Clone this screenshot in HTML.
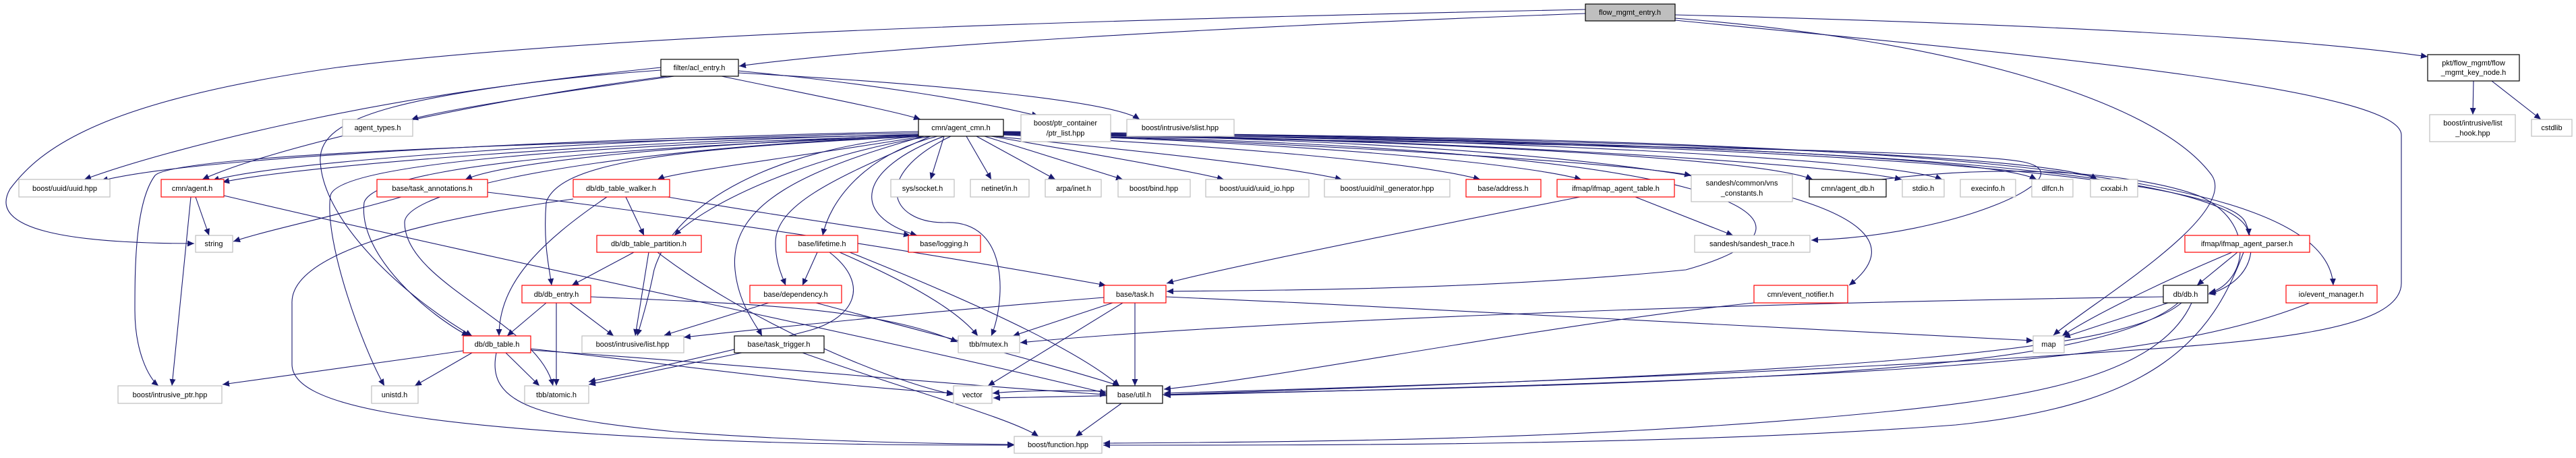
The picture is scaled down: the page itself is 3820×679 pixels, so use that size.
<!DOCTYPE html>
<html><head><meta charset="utf-8"><style>
html,body{margin:0;padding:0;background:#fff;}
svg{display:block;}
text{font-family:"Liberation Sans",Arial,sans-serif;font-size:11px;fill:#000;}
.e{fill:none;stroke:#191970;stroke-width:1.1;marker-end:url(#a);}
.g{fill:#fff;stroke:#bfbfbf;stroke-width:1.2;}
.r{fill:#fff;stroke:#ff0000;stroke-width:1.2;}
.k{fill:#fff;stroke:#000;stroke-width:1.2;}
.root{fill:#bfbfbf;stroke:#000;stroke-width:1.2;}
</style></head><body>
<svg width="3820" height="679" viewBox="0 0 3820 679" xmlns="http://www.w3.org/2000/svg">
<defs><marker id="a" markerWidth="11" markerHeight="9" refX="10" refY="4.5" orient="auto" markerUnits="userSpaceOnUse"><path d="M0,0 L10,4.5 L0,9z" fill="#191970"/></marker></defs>
<g>
<path class="e" d="M2351,20 C1800,40 1300,70 1096,98"/>
<path class="e" d="M2484,22 C3000,35 3400,55 3600,84"/>
<path class="e" d="M2351,14 C1600,30 900,50 500,100 C150,150 60,220 15,280 C-20,340 100,361 288,361"/>
<path class="e" d="M2484,27 C2900,60 3200,150 3280,260 C3320,320 3100,450 3045,497"/>
<path class="e" d="M2484,30 C3000,80 3560,130 3561,200 L3561,420 C3560,500 3300,510 3000,530 C2500,560 2000,575 1726,583"/>
<path class="e" d="M1070,113 C1200,140 1330,165 1365,177"/>
<path class="e" d="M1095,105 C1300,125 1450,150 1540,172"/>
<path class="e" d="M1095,108 C1400,125 1650,150 1690,177"/>
<path class="e" d="M980,104 C600,130 250,220 125,266"/>
<path class="e" d="M990,113 C700,150 400,220 300,266"/>
<path class="e" d="M1000,113 C800,140 650,165 610,177"/>
<path class="e" d="M980,100 C600,140 470,170 475,240 C480,330 600,440 700,498"/>
<path class="e" d="M1362,195 C900,205 300,230 150,268"/>
<path class="e" d="M1362,197 C900,205 400,240 315,268"/>
<path class="e" d="M1362,199 C900,210 450,245 330,270"/>
<path class="e" d="M1362,200 C800,210 260,230 230,260 C200,300 200,400 200,460 C200,520 220,560 235,572"/>
<path class="e" d="M1362,200 C1000,215 750,240 690,266"/>
<path class="e" d="M1362,201 C900,215 500,240 490,290 C480,360 540,520 570,572"/>
<path class="e" d="M1362,202 C1000,215 560,240 540,300 C530,380 640,470 695,498"/>
<path class="e" d="M1370,202 C1200,230 1000,255 975,266"/>
<path class="e" d="M1380,202 C1200,230 1050,300 1000,349"/>
<path class="e" d="M1365,202 C1000,220 830,240 810,300 C805,360 815,400 818,423"/>
<path class="e" d="M1362,202 C900,220 600,280 600,330 C600,420 800,480 820,572"/>
<path class="e" d="M1362,202 C1150,220 1000,300 970,400 C960,450 950,480 945,498"/>
<path class="e" d="M1370,202 C1200,250 1080,300 1090,400 C1095,450 1120,480 1130,498"/>
<path class="e" d="M1380,202 C1250,260 1150,300 1150,360 C1150,390 1160,410 1165,423"/>
<path class="e" d="M1390,202 C1280,230 1230,300 1220,349"/>
<path class="e" d="M1400,202 C1270,250 1260,320 1360,349"/>
<path class="e" d="M1410,202 C1290,260 1320,330 1400,330 C1500,325 1490,450 1470,498"/>
<path class="e" d="M1400,202 L1380,266"/>
<path class="e" d="M1433,202 L1470,266"/>
<path class="e" d="M1448,202 L1565,266"/>
<path class="e" d="M1460,202 L1665,266"/>
<path class="e" d="M1470,202 C1600,225 1750,250 1815,266"/>
<path class="e" d="M1475,202 C1650,220 1900,245 1990,266"/>
<path class="e" d="M1488,200 C1800,215 2100,240 2195,266"/>
<path class="e" d="M1488,199 C1900,210 2250,240 2345,266"/>
<path class="e" d="M1488,198 C1900,210 2400,240 2508,260"/>
<path class="e" d="M1488,197 C2000,205 2600,230 2688,266"/>
<path class="e" d="M1488,196 C2100,205 2700,240 2820,266"/>
<path class="e" d="M1488,196 C2200,205 2800,235 2880,266"/>
<path class="e" d="M1488,195 C2300,205 2950,230 3020,266"/>
<path class="e" d="M1488,195 C2400,205 3050,230 3110,266"/>
<path class="e" d="M1488,198 C2200,215 2900,220 3000,240 C3100,260 2900,350 2686,356"/>
<path class="e" d="M1488,200 C2600,215 2750,330 2500,400 C2200,430 1900,430 1730,432"/>
<path class="e" d="M1488,198 C2500,210 2900,300 2742,423"/>
<path class="e" d="M1488,197 C2600,210 3330,240 3335,349"/>
<path class="e" d="M1488,197 C2700,210 3300,260 3330,330 C3360,400 3300,430 3275,436"/>
<path class="e" d="M1488,196 C2800,205 3450,240 3460,423"/>
<path class="e" d="M290,292 L310,349"/>
<path class="e" d="M283,292 L255,572"/>
<path class="e" d="M332,290 C800,400 1300,500 1641,583"/>
<path class="e" d="M595,292 C500,320 400,340 346,358"/>
<path class="e" d="M723,285 C1100,330 1400,380 1640,423"/>
<path class="e" d="M928,292 L955,349"/>
<path class="e" d="M990,292 C1150,320 1300,340 1350,349"/>
<path class="e" d="M900,292 C800,360 740,420 740,498"/>
<path class="e" d="M850,295 C600,330 430,380 433,450 L433,540 C433,600 600,630 1000,650 C1200,660 1400,660 1504,660"/>
<path class="e" d="M940,374 L848,423"/>
<path class="e" d="M962,374 L942,498"/>
<path class="e" d="M975,374 C1100,470 1300,560 1414,585"/>
<path class="e" d="M810,449 L752,498"/>
<path class="e" d="M825,449 L825,572"/>
<path class="e" d="M845,449 L910,498"/>
<path class="e" d="M876,440 C1100,450 1300,455 1420,507"/>
<path class="e" d="M687,520 C550,540 400,560 330,570"/>
<path class="e" d="M700,523 L615,572"/>
<path class="e" d="M750,523 L800,572"/>
<path class="e" d="M787,517 C1000,540 1200,570 1414,583"/>
<path class="e" d="M787,519 C1100,540 1400,570 1641,585"/>
<path class="e" d="M736,523 C720,600 800,620 1000,640 C1200,655 1400,658 1504,659"/>
<path class="e" d="M1212,374 L1190,423"/>
<path class="e" d="M1245,374 C1350,420 1420,460 1450,498"/>
<path class="e" d="M1260,374 C1450,450 1600,520 1660,572"/>
<path class="e" d="M1230,374 C1290,420 1270,470 1200,490 C1050,530 900,560 873,566"/>
<path class="e" d="M1140,449 L985,497"/>
<path class="e" d="M1210,449 C1400,500 1560,540 1660,572"/>
<path class="e" d="M1100,523 L873,570"/>
<path class="e" d="M1190,523 C1350,580 1500,620 1540,647"/>
<path class="e" d="M1650,449 L1502,498"/>
<path class="e" d="M1665,449 L1465,572"/>
<path class="e" d="M1683,449 L1683,572"/>
<path class="e" d="M1637,441 C1400,460 1200,480 1014,500"/>
<path class="e" d="M1729,440 C2200,460 2700,490 3015,505"/>
<path class="e" d="M1663,598 L1595,647"/>
<path class="e" d="M1641,580 C1560,578 1500,580 1472,583"/>
<path class="e" d="M2343,292 C2100,340 1800,400 1730,420"/>
<path class="e" d="M2425,292 L2570,349"/>
<path class="e" d="M2601,449 C2300,480 1900,560 1726,577"/>
<path class="e" d="M3318,374 L3258,423"/>
<path class="e" d="M3310,374 C3200,420 3100,470 3058,498"/>
<path class="e" d="M3327,374 C3280,500 3200,600 2900,630 C2500,660 2000,660 1636,660"/>
<path class="e" d="M3215,449 L3060,500"/>
<path class="e" d="M3208,440 C2500,450 1800,480 1513,508"/>
<path class="e" d="M3230,449 C3100,560 2500,570 1473,590"/>
<path class="e" d="M3235,449 C3150,520 2800,550 1726,585"/>
<path class="e" d="M3250,449 C3200,560 3000,590 2800,610 C2400,650 2000,655 1636,657"/>
<path class="e" d="M2790,266 C3000,240 3180,260 3260,290 C3350,330 3330,420 3276,434"/>
<path class="e" d="M3425,449 C3200,540 2800,560 1726,586"/>
<path class="e" d="M3668,120 L3667,170"/>
<path class="e" d="M3695,120 L3768,177"/>
</g>
<g>
<rect class="root" x="2351" y="6" width="133" height="25"/><text x="2417" y="22" text-anchor="middle">flow_mgmt_entry.h</text>
<rect class="k" x="980" y="88" width="115" height="25"/><text x="1037" y="104" text-anchor="middle">filter/acl_entry.h</text>
<rect class="k" x="3600" y="81" width="136" height="39"/><text x="3668" y="97" text-anchor="middle">pkt/flow_mgmt/flow</text><text x="3668" y="111" text-anchor="middle">_mgmt_key_node.h</text>
<rect class="g" x="508" y="177" width="104" height="25"/><text x="560" y="193" text-anchor="middle">agent_types.h</text>
<rect class="k" x="1362" y="177" width="126" height="25"/><text x="1425" y="193" text-anchor="middle">cmn/agent_cmn.h</text>
<rect class="g" x="1514" y="170" width="133" height="40"/><text x="1580" y="186" text-anchor="middle">boost/ptr_container</text><text x="1580" y="201" text-anchor="middle">/ptr_list.hpp</text>
<rect class="g" x="1671" y="177" width="159" height="25"/><text x="1750" y="193" text-anchor="middle">boost/intrusive/slist.hpp</text>
<rect class="g" x="3603" y="170" width="127" height="40"/><text x="3667" y="186" text-anchor="middle">boost/intrusive/list</text><text x="3667" y="201" text-anchor="middle">_hook.hpp</text>
<rect class="g" x="3754" y="177" width="60" height="25"/><text x="3784" y="193" text-anchor="middle">cstdlib</text>
<rect class="g" x="28" y="266" width="135" height="26"/><text x="96" y="283" text-anchor="middle">boost/uuid/uuid.hpp</text>
<rect class="r" x="239" y="266" width="93" height="26"/><text x="285" y="283" text-anchor="middle">cmn/agent.h</text>
<rect class="r" x="559" y="266" width="164" height="26"/><text x="641" y="283" text-anchor="middle">base/task_annotations.h</text>
<rect class="r" x="850" y="266" width="143" height="26"/><text x="921" y="283" text-anchor="middle">db/db_table_walker.h</text>
<rect class="g" x="1321" y="266" width="94" height="26"/><text x="1368" y="283" text-anchor="middle">sys/socket.h</text>
<rect class="g" x="1439" y="266" width="87" height="26"/><text x="1482" y="283" text-anchor="middle">netinet/in.h</text>
<rect class="g" x="1550" y="266" width="83" height="26"/><text x="1592" y="283" text-anchor="middle">arpa/inet.h</text>
<rect class="g" x="1658" y="266" width="107" height="26"/><text x="1711" y="283" text-anchor="middle">boost/bind.hpp</text>
<rect class="g" x="1788" y="266" width="153" height="26"/><text x="1864" y="283" text-anchor="middle">boost/uuid/uuid_io.hpp</text>
<rect class="g" x="1964" y="266" width="186" height="26"/><text x="2057" y="283" text-anchor="middle">boost/uuid/nil_generator.hpp</text>
<rect class="r" x="2174" y="266" width="111" height="26"/><text x="2229" y="283" text-anchor="middle">base/address.h</text>
<rect class="r" x="2309" y="266" width="174" height="26"/><text x="2396" y="283" text-anchor="middle">ifmap/ifmap_agent_table.h</text>
<rect class="g" x="2508" y="259" width="150" height="40"/><text x="2583" y="275" text-anchor="middle">sandesh/common/vns</text><text x="2583" y="290" text-anchor="middle">_constants.h</text>
<rect class="k" x="2683" y="266" width="114" height="26"/><text x="2740" y="283" text-anchor="middle">cmn/agent_db.h</text>
<rect class="g" x="2821" y="266" width="62" height="26"/><text x="2852" y="283" text-anchor="middle">stdio.h</text>
<rect class="g" x="2907" y="266" width="82" height="26"/><text x="2948" y="283" text-anchor="middle">execinfo.h</text>
<rect class="g" x="3013" y="266" width="61" height="26"/><text x="3044" y="283" text-anchor="middle">dlfcn.h</text>
<rect class="g" x="3100" y="266" width="70" height="26"/><text x="3135" y="283" text-anchor="middle">cxxabi.h</text>
<rect class="g" x="290" y="349" width="55" height="25"/><text x="317" y="365" text-anchor="middle">string</text>
<rect class="r" x="885" y="349" width="155" height="25"/><text x="962" y="365" text-anchor="middle">db/db_table_partition.h</text>
<rect class="r" x="1166" y="349" width="106" height="25"/><text x="1219" y="365" text-anchor="middle">base/lifetime.h</text>
<rect class="r" x="1347" y="349" width="107" height="25"/><text x="1400" y="365" text-anchor="middle">base/logging.h</text>
<rect class="g" x="2513" y="349" width="171" height="25"/><text x="2598" y="365" text-anchor="middle">sandesh/sandesh_trace.h</text>
<rect class="r" x="3240" y="349" width="185" height="25"/><text x="3332" y="365" text-anchor="middle">ifmap/ifmap_agent_parser.h</text>
<rect class="r" x="774" y="423" width="102" height="26"/><text x="825" y="440" text-anchor="middle">db/db_entry.h</text>
<rect class="r" x="1112" y="423" width="136" height="26"/><text x="1180" y="440" text-anchor="middle">base/dependency.h</text>
<rect class="r" x="1637" y="423" width="92" height="26"/><text x="1683" y="440" text-anchor="middle">base/task.h</text>
<rect class="r" x="2601" y="423" width="139" height="26"/><text x="2670" y="440" text-anchor="middle">cmn/event_notifier.h</text>
<rect class="k" x="3208" y="423" width="66" height="26"/><text x="3241" y="440" text-anchor="middle">db/db.h</text>
<rect class="r" x="3390" y="423" width="135" height="26"/><text x="3457" y="440" text-anchor="middle">io/event_manager.h</text>
<rect class="r" x="687" y="498" width="100" height="25"/><text x="737" y="514" text-anchor="middle">db/db_table.h</text>
<rect class="g" x="863" y="498" width="151" height="25"/><text x="938" y="514" text-anchor="middle">boost/intrusive/list.hpp</text>
<rect class="k" x="1089" y="498" width="133" height="25"/><text x="1155" y="514" text-anchor="middle">base/task_trigger.h</text>
<rect class="g" x="1421" y="498" width="91" height="25"/><text x="1466" y="514" text-anchor="middle">tbb/mutex.h</text>
<rect class="g" x="3015" y="498" width="46" height="25"/><text x="3038" y="514" text-anchor="middle">map</text>
<rect class="g" x="175" y="572" width="154" height="26"/><text x="252" y="589" text-anchor="middle">boost/intrusive_ptr.hpp</text>
<rect class="g" x="551" y="572" width="69" height="26"/><text x="585" y="589" text-anchor="middle">unistd.h</text>
<rect class="g" x="778" y="572" width="95" height="26"/><text x="825" y="589" text-anchor="middle">tbb/atomic.h</text>
<rect class="g" x="1414" y="572" width="57" height="26"/><text x="1442" y="589" text-anchor="middle">vector</text>
<rect class="k" x="1641" y="572" width="83" height="26"/><text x="1682" y="589" text-anchor="middle">base/util.h</text>
<rect class="g" x="1504" y="647" width="130" height="25"/><text x="1569" y="663" text-anchor="middle">boost/function.hpp</text>
</g>
</svg>
</body></html>
